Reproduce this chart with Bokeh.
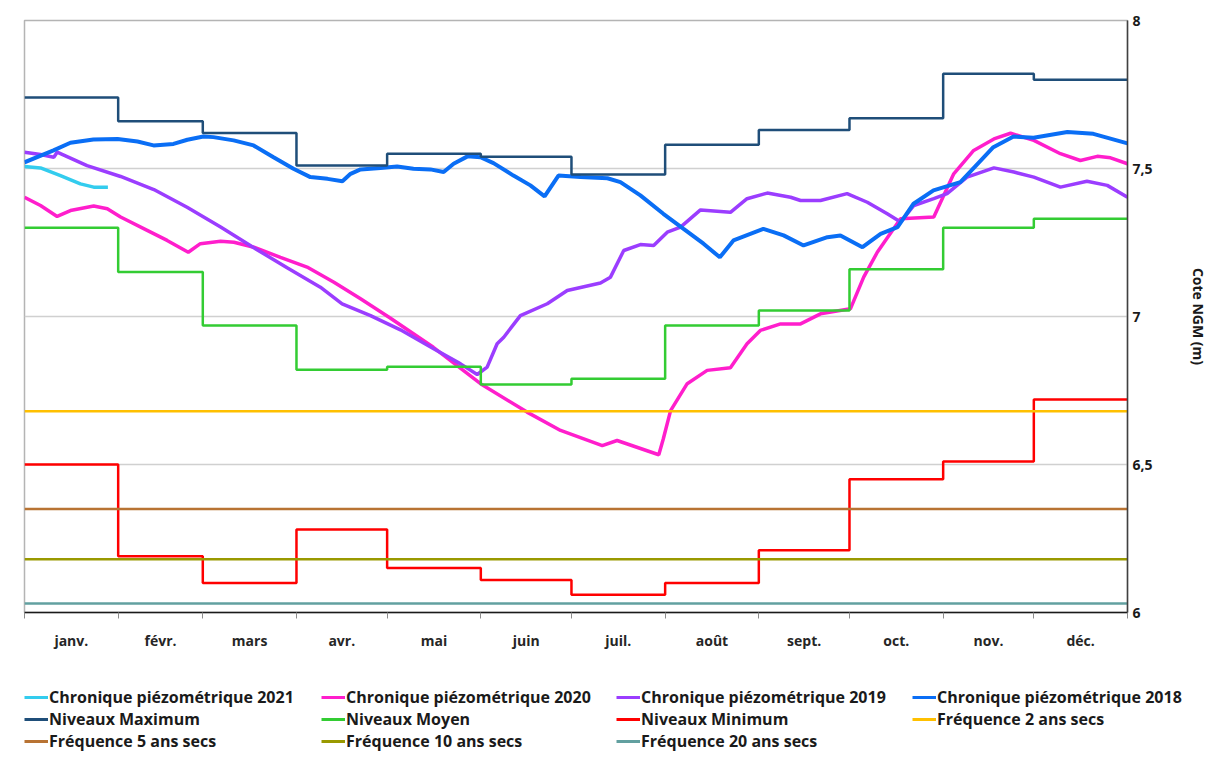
from bokeh.plotting import figure
from bokeh.models import Range1d, FixedTicker, Legend, LegendItem
from bokeh.layouts import column
from bokeh.embed import file_html
from bokeh.resources import INLINE

# ---------------- data ----------------
months = ["janv.", "févr.", "mars", "avr.", "mai", "juin", "juil.", "août",
          "sept.", "oct.", "nov.", "déc."]
month_start = [0, 31, 59, 90, 120, 151, 181, 212, 243, 273, 304, 334, 365]

niv_max = [7.74, 7.66, 7.62, 7.51, 7.55, 7.54, 7.48, 7.58, 7.63, 7.67, 7.82, 7.80]
niv_moy = [7.30, 7.15, 6.97, 6.82, 6.83, 6.77, 6.79, 6.97, 7.02, 7.16, 7.30, 7.33]
niv_min = [6.50, 6.19, 6.10, 6.28, 6.15, 6.11, 6.06, 6.10, 6.21, 6.45, 6.51, 6.72]

freq_2 = 6.68
freq_5 = 6.35
freq_10 = 6.18
freq_20 = 6.03

c2021_day = [0, 5.3, 11.9, 18.5, 22.9, 27.6]
c2021_val = [7.507, 7.502, 7.476, 7.448, 7.437, 7.437]

c2020_day = [0, 5.3, 10.8, 15.2, 22.9, 27.4, 31.8, 40.6, 47.2, 54.2, 58.2, 64.9,
             69.3, 75.9, 84.7, 93.5, 102.4, 111.2, 121.0, 135.3, 150.9, 166.3,
             177.4, 191.2, 196.1, 209.9, 211.4, 213.8, 219.3, 225.9, 233.6, 239.1,
             243.5, 250.2, 256.8, 263.4, 273.3, 277.7, 282.2, 289.9, 300.9, 307.5,
             314.1, 320.8, 326.3, 334.0, 342.8, 349.4, 355.0, 359.4, 365]
c2020_val = [7.403, 7.375, 7.338, 7.358, 7.373, 7.364, 7.336, 7.291, 7.257, 7.217,
             7.246, 7.254, 7.251, 7.234, 7.200, 7.167, 7.116, 7.060, 6.995, 6.896,
             6.773, 6.677, 6.615, 6.564, 6.581, 6.533, 6.587, 6.682, 6.773, 6.818,
             6.827, 6.908, 6.953, 6.975, 6.975, 7.009, 7.026, 7.133, 7.217, 7.330,
             7.336, 7.482, 7.561, 7.600, 7.619, 7.595, 7.550, 7.527, 7.541, 7.536,
             7.516]

c2019_day = [0, 5.3, 9.7, 10.8, 20.7, 31.8, 42.8, 53.8, 64.9, 75.9, 86.9, 97.9,
             105.1, 114.5, 124.4, 135.4, 144.3, 149.8, 153.1, 156.4, 158.6, 164.1,
             173.0, 179.6, 190.6, 193.9, 198.3, 203.8, 208.2, 212.7, 217.1, 223.7,
             233.6, 239.1, 245.8, 253.5, 256.8, 263.4, 272.2, 278.9, 285.5, 289.9,
             294.3, 300.9, 305.3, 311.9, 320.8, 327.4, 334.0, 342.8, 351.6, 358.3,
             365]
c2019_val = [7.555, 7.547, 7.538, 7.555, 7.510, 7.473, 7.429, 7.369, 7.302, 7.232,
             7.165, 7.099, 7.043, 7.003, 6.955, 6.891, 6.840, 6.804, 6.829, 6.908,
             6.930, 7.003, 7.043, 7.088, 7.113, 7.133, 7.223, 7.243, 7.240, 7.285,
             7.302, 7.360, 7.352, 7.398, 7.417, 7.403, 7.392, 7.392, 7.415, 7.386,
             7.347, 7.319, 7.375, 7.398, 7.415, 7.471, 7.502, 7.488, 7.471, 7.437,
             7.457, 7.443, 7.403]

c2018_day = [0, 9.6, 15.2, 22.8, 30.8, 37.4, 42.7, 49.3, 53.9, 59.2, 62.5, 69.2,
             75.8, 82.4, 89.0, 94.6, 100.3, 105.2, 107.9, 111.2, 117.8, 123.3, 128.7,
             134.3, 138.7, 142.0, 146.6, 150.9, 155.2, 161.8, 167.4, 172.1, 176.7,
             184.0, 192.9, 197.2, 203.8, 211.4, 218.1, 224.7, 230.1, 234.6, 244.5,
             251.2, 257.8, 265.7, 270.0, 277.3, 283.3, 288.9, 294.2, 300.8, 309.7,
             315.4, 320.6, 327.3, 333.9, 345.1, 353.7, 365]
c2018_val = [7.521, 7.561, 7.587, 7.598, 7.600, 7.591, 7.578, 7.583, 7.597, 7.608,
             7.606, 7.595, 7.578, 7.538, 7.499, 7.471, 7.465, 7.457, 7.482, 7.497,
             7.502, 7.507, 7.499, 7.497, 7.488, 7.516, 7.541, 7.538, 7.518, 7.476,
             7.443, 7.406, 7.476, 7.471, 7.467, 7.454, 7.409, 7.347, 7.296, 7.246,
             7.200, 7.257, 7.296, 7.274, 7.240, 7.268, 7.274, 7.234, 7.279, 7.302,
             7.381, 7.426, 7.454, 7.516, 7.572, 7.608, 7.604, 7.623, 7.617, 7.585]

y_ticks = [6, 6.5, 7, 7.5, 8]
y_tick_labels = ["6", "6,5", "7", "7,5", "8"]

# ---------------- styles ----------------
FONT = "Open Sans"
TXT = "#1a1a1a"
COL = {
    "2021": "#33CCEE", "2020": "#FF1ECC", "2019": "#9B3DFF", "2018": "#0A6EF5",
    "max": "#1F4E79", "moy": "#33CC33", "min": "#FF0000",
    "f2": "#FFC000", "f5": "#B87333", "f10": "#999900", "f20": "#62A0A0",
}
WID = {"2021": 3.5, "2020": 3.5, "2019": 3.5, "2018": 4,
       "max": 2.5, "moy": 2.5, "min": 2.5, "f2": 2.5, "f5": 2.5, "f10": 2.5, "f20": 2.5}

x_ext = [month_start[0], month_start[-1]]
SERIES = {
    "2021": (c2021_day, c2021_val, "line"),
    "2020": (c2020_day, c2020_val, "line"),
    "2019": (c2019_day, c2019_val, "line"),
    "2018": (c2018_day, c2018_val, "line"),
    "max": (month_start, niv_max + [niv_max[-1]], "step"),
    "moy": (month_start, niv_moy + [niv_moy[-1]], "step"),
    "min": (month_start, niv_min + [niv_min[-1]], "step"),
    "f2": (x_ext, [freq_2, freq_2], "line"),
    "f5": (x_ext, [freq_5, freq_5], "line"),
    "f10": (x_ext, [freq_10, freq_10], "line"),
    "f20": (x_ext, [freq_20, freq_20], "line"),
}

def draw(fig, key, width=None):
    xs, ys, kind = SERIES[key]
    w = WID[key] if width is None else width
    if kind == "step":
        return fig.step(xs, ys, mode="after", line_color=COL[key], line_width=w)
    return fig.line(xs, ys, line_color=COL[key], line_width=w)

W = 1215
# ---------------- main chart ----------------
p = figure(width=W, height=657, x_range=Range1d(0, 365), y_range=Range1d(6, 8),
           y_axis_location="right", toolbar_location=None, output_backend="svg",
           min_border_left=24, min_border_right=88, min_border_top=20,
           min_border_bottom=45)
p.frame_align = False
p.outline_line_color = "#b4b4b4"
p.outline_line_width = 1.5
p.xgrid.visible = False
p.ygrid.grid_line_color = "#d0d0d0"
p.ygrid.grid_line_width = 1.5

mids = [(month_start[i] + month_start[i + 1]) / 2 for i in range(12)]
xax = p.xaxis[0]
xax.ticker = FixedTicker(ticks=mids, minor_ticks=month_start)
xax.major_label_overrides = {m: lab for m, lab in zip(mids, months)}
xax.major_tick_out = 0
xax.major_tick_in = 0
xax.minor_tick_out = 6
xax.minor_tick_in = 0
xax.minor_tick_line_color = "#8c8c8c"
xax.axis_line_color = TXT
xax.axis_line_width = 1.5
xax.major_label_standoff = 12
xax.major_label_text_font = FONT
xax.major_label_text_font_style = "bold"
xax.major_label_text_font_size = "14px"
xax.major_label_text_color = "#262626"

yax = p.yaxis[0]
yax.ticker = FixedTicker(ticks=y_ticks, minor_ticks=[])
yax.major_label_overrides = {t: lab for t, lab in zip(y_ticks, y_tick_labels)}
yax.major_tick_out = 0
yax.major_tick_in = 0
yax.minor_tick_line_color = None
yax.axis_line_color = "#404040"
yax.axis_line_width = 1.5
yax.major_label_standoff = 5
yax.major_label_text_font = FONT
yax.major_label_text_font_style = "bold"
yax.major_label_text_font_size = "14px"
yax.major_label_text_color = TXT
yax.axis_label = "Cote NGM (m)"
yax.axis_label_text_font = FONT
yax.axis_label_text_font_style = "bold"
yax.axis_label_text_font_size = "14px"
yax.axis_label_text_color = TXT
yax.axis_label_standoff = 33

for key in ("2021", "2020", "2019", "2018", "max", "moy", "min",
            "f2", "f5", "f10", "f20"):
    draw(p, key)

# ---------------- legend panel (4 columns under the chart) ----------------
LH = 96
lf = figure(width=W, height=LH, x_range=Range1d(0, 1), y_range=Range1d(0, 1),
            toolbar_location=None, output_backend="svg",
            x_axis_location=None, y_axis_location=None,
            min_border_left=0, min_border_right=0, min_border_top=0,
            min_border_bottom=0)
lf.frame_align = False
lf.outline_line_color = None
lf.xgrid.visible = False
lf.ygrid.visible = False

# legend proxies: same series, drawn outside this panel's visible range
proxies = {k: draw(lf, k, width=3) for k in SERIES}

columns = [
    (24, [("Chronique piézométrique 2021", "2021"), ("Niveaux Maximum", "max"),
          ("Fréquence 5 ans secs", "f5")]),
    (321, [("Chronique piézométrique 2020", "2020"), ("Niveaux Moyen", "moy"),
           ("Fréquence 10 ans secs", "f10")]),
    (616, [("Chronique piézométrique 2019", "2019"), ("Niveaux Minimum", "min"),
           ("Fréquence 20 ans secs", "f20")]),
    (912, [("Chronique piézométrique 2018", "2018"), ("Fréquence 2 ans secs", "f2")]),
]
ROW_H = 22
GAP = 0
TOP = 29
for x0, its in columns:
    n = len(its)
    h = n * ROW_H + (n - 1) * GAP
    lg = Legend(items=[LegendItem(label=l, renderers=[proxies[k]]) for l, k in its],
                location=(x0, LH - TOP - h), orientation="vertical",
                padding=0, margin=0, spacing=GAP, glyph_width=24,
                glyph_height=ROW_H, label_height=ROW_H, label_standoff=1,
                border_line_color=None, background_fill_alpha=0,
                label_text_font=FONT, label_text_font_style="bold",
                label_text_font_size="16px", label_text_color=TXT)
    lf.add_layout(lg, "center")

layout = column(p, lf, spacing=0)
open("out.html", "w").write(file_html(layout, INLINE))
